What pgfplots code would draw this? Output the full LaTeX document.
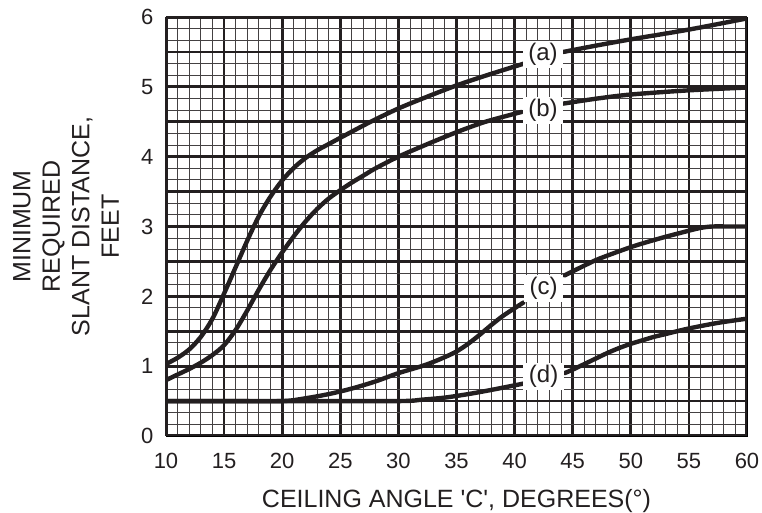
\documentclass[border=0pt]{standalone}
\usepackage{pgfplots}
\pgfplotsset{compat=1.18}
\usepackage{fontspec}
\setmainfont{Liberation Sans}
\definecolor{ink}{RGB}{35,31,32}

\begin{document}
\begin{tikzpicture}
  \path[use as bounding box] (-166pt,-77pt) rectangle (596pt,436pt);
  \begin{axis}[
    at={(0,0)}, anchor=south west,
    scale only axis, width=581pt, height=419pt,
    xmin=10, xmax=60, ymin=0, ymax=6,
    xtick={10,15,...,60},
    ytick={0,0.5,...,6},
    yticklabels={0,,1,,2,,3,,4,,5,,6},
    minor x tick num=4,
    minor y tick num=2,
    major tick length=0pt, minor tick length=0pt,
    grid=both,
    major grid style={ink, line width=2.8pt},
    minor grid style={ink!85, line width=1pt},
    ticklabel style={font=\fontsize{22}{26}\selectfont, text=ink},
    /pgf/number format/assume math mode=true,
    xticklabel style={yshift=-14pt},
    yticklabel style={xshift=-9pt},
    xlabel={CEILING ANGLE \textquotesingle C\textquotesingle, DEGREES(°)},
    xlabel style={font=\fontsize{25}{30}\selectfont, text=ink,
      at={(axis description cs:0.5,0)}, anchor=base, yshift=-71pt},
    ylabel={MINIMUM\\REQUIRED\\SLANT DISTANCE,\\FEET},
    ylabel style={font=\fontsize{25}{29.5}\selectfont, text=ink, align=center,
      at={(axis description cs:0,0.5)}, anchor=south,
      inner sep=0pt, yshift=47pt},
    curve/.style={ink, no markers, line width=4.4pt, line cap=round, smooth, tension=0.5},
  ]
    % (a)
    \addplot[curve] coordinates {(10,1.03)(11,1.12)(12,1.24)(13,1.42)(14,1.68)(15,2.04)
      (16,2.42)(17,2.8)(18,3.15)(19,3.43)(20,3.66)(21,3.84)(22,3.98)(23,4.09)(24,4.18)
      (25,4.27)(27.5,4.49)(30,4.69)(32.5,4.86)(35,5.02)(37.5,5.16)(40.75,5.33)};
    \addplot[curve] coordinates {(44.2,5.5)(47,5.59)(50,5.68)(55,5.82)(60,5.98)};
    % (b)
    \addplot[curve] coordinates {(10,0.8)(11,0.88)(12,0.96)(13,1.05)(14,1.16)(15,1.3)
      (16,1.52)(17,1.8)(18,2.1)(19,2.38)(20,2.63)(21,2.86)(22,3.07)(23,3.25)(24,3.4)
      (25,3.52)(26,3.63)(27,3.73)(28,3.83)(30,4.0)(32.5,4.18)(35,4.35)(37.5,4.5)(40.6,4.64)};
    \addplot[curve] coordinates {(44.2,4.76)(47,4.83)(50,4.89)(55,4.95)(60,4.99)};
    % (c)
    \addplot[curve] coordinates {(10,0.5)(15,0.5)(20,0.5)(22,0.54)(24,0.6)(26,0.68)(28,0.78)
      (30,0.9)(32,1.0)(33,1.06)(34,1.13)(35,1.21)(36,1.32)(37,1.45)(38,1.59)(39,1.72)
      (40,1.83)(40.75,1.91)};
    \addplot[curve] coordinates {(44.3,2.3)(46,2.44)(47.3,2.54)(50.1,2.71)(52.5,2.83)
      (55,2.94)(56,2.98)(57,3.0)(58.5,3.0)(60,3.0)};
    % (d)
    \addplot[curve] coordinates {(10,0.5)(20,0.5)(30,0.5)(32,0.52)(34,0.55)(36,0.6)(38,0.66)(40.75,0.75)};
    \addplot[curve] coordinates {(44.3,0.9)(45,0.95)(46,1.03)(47,1.11)(48,1.19)(49,1.26)
      (50,1.32)(51,1.37)(52,1.42)(53,1.46)(55,1.54)(57.5,1.62)(60,1.68)};
    % frame
    \draw[ink, line width=4.8pt] (rel axis cs:0,0) rectangle (rel axis cs:1,1);
    % labels
    \tikzset{lab/.style={fill=white, text=ink, inner xsep=5.5pt, inner ysep=2.5pt,
      font=\fontsize{24}{28}\selectfont}}
    \node[lab] at (axis cs:42.45,5.46) {(a)};
    \node[lab] at (axis cs:42.45,4.66) {(b)};
    \node[lab] at (axis cs:42.5,2.11) {(c)};
    \node[lab] at (axis cs:42.5,0.85) {(d)};
  \end{axis}
\end{tikzpicture}
\end{document}
